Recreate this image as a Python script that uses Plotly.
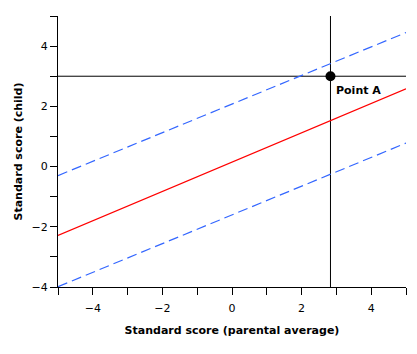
import plotly.graph_objects as go

x_ends = [-5, 5]
regression = [-2.29, 2.58]
upper_band = [-0.30, 4.45]
lower_band = [-3.99, 0.78]
point_a = (2.83, 3.0)
x_range = [-5, 5]
y_range = [-4, 5]

FONT = "DejaVu Sans, Verdana, sans-serif"
BLUE = "#3366FF"

fig = go.Figure()
# reference lines through point A
fig.add_trace(go.Scatter(x=x_range, y=[point_a[1]] * 2, mode="lines",
                         line=dict(color="black", width=1), hoverinfo="skip"))
fig.add_trace(go.Scatter(x=[point_a[0]] * 2, y=y_range, mode="lines",
                         line=dict(color="black", width=1), hoverinfo="skip"))
fig.add_trace(go.Scatter(x=x_ends, y=upper_band, mode="lines",
                         line=dict(color=BLUE, width=1.2, dash="10px,5px")))
fig.add_trace(go.Scatter(x=x_ends, y=lower_band, mode="lines",
                         line=dict(color=BLUE, width=1.2, dash="10px,5px")))
fig.add_trace(go.Scatter(x=x_ends, y=regression, mode="lines",
                         line=dict(color="#FF0000", width=1.2)))
fig.add_trace(go.Scatter(x=[point_a[0]], y=[point_a[1]], mode="markers",
                         marker=dict(color="black", size=10)))

fig.add_annotation(x=point_a[0], y=point_a[1], text="<b>Point A</b>",
                   showarrow=False, xanchor="left", yanchor="top",
                   xshift=4, yshift=-6,
                   font=dict(family=FONT, size=11, color="black"))

axis_common = dict(
    showline=True, linecolor="black", linewidth=1, showgrid=False,
    zeroline=False, ticks="outside", ticklen=7, tickcolor="black",
    tickfont=dict(family=FONT, size=11, color="black"),
    dtick=2, tick0=0,
    minor=dict(ticks="outside", ticklen=7, tickcolor="black", dtick=1, tick0=0, showgrid=False),
)

fig.update_layout(
    width=417, height=354,
    margin=dict(l=58, r=11, t=16, b=67),
    showlegend=False,
    plot_bgcolor="white", paper_bgcolor="white",
    xaxis=dict(range=x_range, **axis_common, ticklabelstandoff=4,
               title=dict(text="Standard score (parental average)",
                          font=dict(family=FONT, size=11, color="black", weight="bold"),
                          standoff=12)),
    yaxis=dict(range=y_range, **axis_common,
               title=dict(text="Standard score (child)",
                          font=dict(family=FONT, size=11, color="black", weight="bold"),
                          standoff=6)),
)
fig.update_traces(cliponaxis=False, selector=dict(mode="markers"))

fig.write_html("out.html")
